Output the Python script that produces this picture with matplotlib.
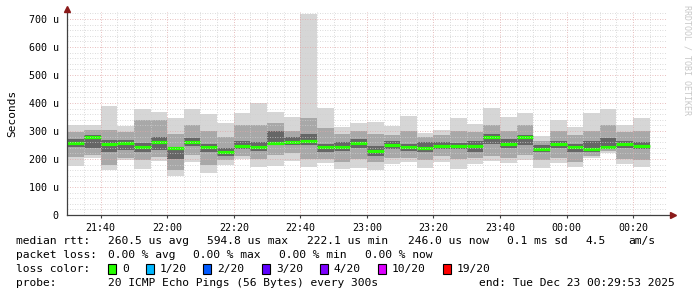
import matplotlib.pyplot as plt
from matplotlib.patches import Rectangle
import numpy as np

# 5-minute steps starting at 21:30, values in microseconds
lo = [175, 202, 161, 196, 164, 194, 139, 190, 151, 179, 199, 173, 175, 193, 170, 187, 163, 167,
      161, 182, 190, 169, 190, 164, 182, 194, 187, 196, 167, 187, 170, 202, 220, 182, 170]
q_lo = [208, 214, 178, 202, 196, 208, 160, 215, 180, 195, 210, 200, 215, 220, 200, 200, 190, 200,
        190, 205, 205, 195, 210, 200, 205, 210, 205, 215, 195, 205, 190, 210, 230, 200, 195]
c_lo = [244, 240, 226, 232, 226, 232, 200, 245, 225, 210, 235, 230, 250, 250, 250, 225, 230, 240,
        210, 235, 230, 225, 235, 235, 225, 255, 240, 250, 225, 240, 225, 225, 235, 240, 235]
med = [256, 277, 252, 256, 242, 261, 240, 261, 244, 224, 248, 244, 258, 261, 265, 244, 244, 256,
       228, 250, 244, 240, 246, 246, 246, 277, 254, 280, 235, 254, 242, 236, 244, 254, 246]
c_hi = [272, 285, 268, 268, 256, 280, 244, 275, 255, 240, 265, 260, 300, 280, 290, 255, 260, 270,
        245, 265, 255, 260, 260, 258, 265, 290, 270, 285, 250, 265, 255, 265, 275, 265, 260]
q_hi = [298, 304, 304, 298, 339, 339, 290, 320, 300, 280, 320, 320, 330, 300, 345, 310, 290, 300,
        290, 285, 300, 280, 285, 300, 295, 320, 300, 320, 265, 300, 285, 300, 320, 295, 300]
hi = [321, 321, 390, 318, 377, 368, 346, 377, 361, 327, 363, 399, 368, 351, 718, 383, 315, 330,
      333, 318, 354, 294, 304, 347, 325, 381, 351, 363, 282, 339, 313, 365, 379, 321, 346]

tick_pos = [10, 30, 50, 70, 90, 110, 130, 150, 170]
tick_labels = ["21:40", "22:00", "22:20", "22:40", "23:00", "23:20", "23:40", "00:00", "00:20"]
y_ticks = [0, 100, 200, 300, 400, 500, 600, 700]
y_labels = ["0", "100 u", "200 u", "300 u", "400 u", "500 u", "600 u", "700 u"]

loss_labels = ["0", "1/20", "2/20", "3/20", "4/20", "10/20", "19/20"]
loss_colors = ["#26ff00", "#00b8ff", "#0059ff", "#5e00ff", "#7e00ff", "#dd00ff", "#ff0000"]

W, H = 697, 297
fig = plt.figure(figsize=(W / 100, H / 100), dpi=100)
fig.patch.set_facecolor("white")
ax = fig.add_axes([67 / W, (H - 215) / H, (666 - 67) / W, 203 / H])
ax.set_xlim(-7 / 60, 180 - 7 / 60)
ax.set_ylim(0, 725)

lo = np.array(lo); hi = np.array(hi)
q_lo = np.array(q_lo); q_hi = np.array(q_hi)
c_lo = np.array(c_lo); c_hi = np.array(c_hi)
starts = np.arange(len(lo)) * 5

ax.bar(starts, hi - lo, bottom=lo, width=5, align="edge", color="#d6d6d6", zorder=1)
ax.bar(starts, q_hi - q_lo, bottom=q_lo, width=5, align="edge", color="#a8a8a8", zorder=2)
ax.bar(starts, c_hi - c_lo, bottom=c_lo, width=5, align="edge", color="#666666", zorder=3)
ax.hlines(med, starts, starts + 5, color=loss_colors[0], lw=2.3, zorder=4)

# grid
dots = (0, (1, 2))
for v in range(20, 725, 20):
    major = v % 100 == 0
    ax.axhline(v, color="#e0a8a8" if major else "#cfcfcf", lw=0.6, ls=dots, zorder=5)
for m in range(5, 180, 5):
    major = (m - 10) % 20 == 0
    ax.axvline(m, color="#e0a8a8" if major else "#cfcfcf", lw=0.6, ls=dots, zorder=5)

for s in ax.spines.values():
    s.set_visible(False)
ax.set_xticks(tick_pos)
ax.set_xticklabels(tick_labels, family="DejaVu Sans Mono", fontsize=7.2)
ax.set_yticks(y_ticks)
ax.set_yticklabels(y_labels, family="DejaVu Sans Mono", fontsize=7.2)
ax.tick_params(length=2, width=0.8, color="#404040", pad=4)
ax.tick_params(axis="y", length=0, pad=6)
ax.set_ylabel("Seconds", family="DejaVu Sans Mono", fontsize=8, labelpad=8)

# axis lines with arrows
ax.plot([0, 0], [0, 735], color="#404040", lw=0.9, clip_on=False, zorder=6)
ax.plot([-7 / 60, 181.5], [0, 0], color="#404040", lw=0.9, clip_on=False, zorder=6)
ax.plot([-7 / 60], [737], marker="^", color="#8b1a1a", ms=4, clip_on=False, zorder=7)
ax.plot([182], [0], marker=">", color="#8b1a1a", ms=4, clip_on=False, zorder=7)

fig.text(687 / W, 1 - 5 / H, "RRDTOOL / TOBI OETIKER", rotation=270, ha="center", va="top",
         family="DejaVu Sans Mono", fontsize=6, color="#c8c8c8")

mono = dict(family="DejaVu Sans Mono", fontsize=8.1, va="center", color="#000000")


def put(x, y, s):
    fig.text(x / W, 1 - y / H, s, **mono)


put(16, 241, "median rtt:")
for x, s in zip([108, 207, 307, 408, 507, 585, 628],
                ["260.5 us avg", "594.8 us max", "222.1 us min", "246.0 us now",
                 "0.1 ms sd", "4.5", "am/s"]):
    put(x, 241, s)
put(16, 255, "packet loss:")
for x, s in zip([108, 193, 279, 365], ["0.00 % avg", "0.00 % max", "0.00 % min", "0.00 % now"]):
    put(x, 255, s)
put(16, 269, "loss color:")
box_x = [108, 146, 203, 262, 320, 378, 443]
for bx, lab, col in zip(box_x, loss_labels, loss_colors):
    fig.patches.append(Rectangle((bx / W, 1 - 274 / H), 8 / W, 10 / H, transform=fig.transFigure,
                                 facecolor=col, edgecolor="black", lw=0.8))
    put(bx + 14, 269, lab)
put(16, 283, "probe:")
put(108, 283, "20 ICMP Echo Pings (56 Bytes) every 300s")
put(479, 283, "end: Tue Dec 23 00:29:53 2025")

fig.savefig("out.png", dpi=100)
